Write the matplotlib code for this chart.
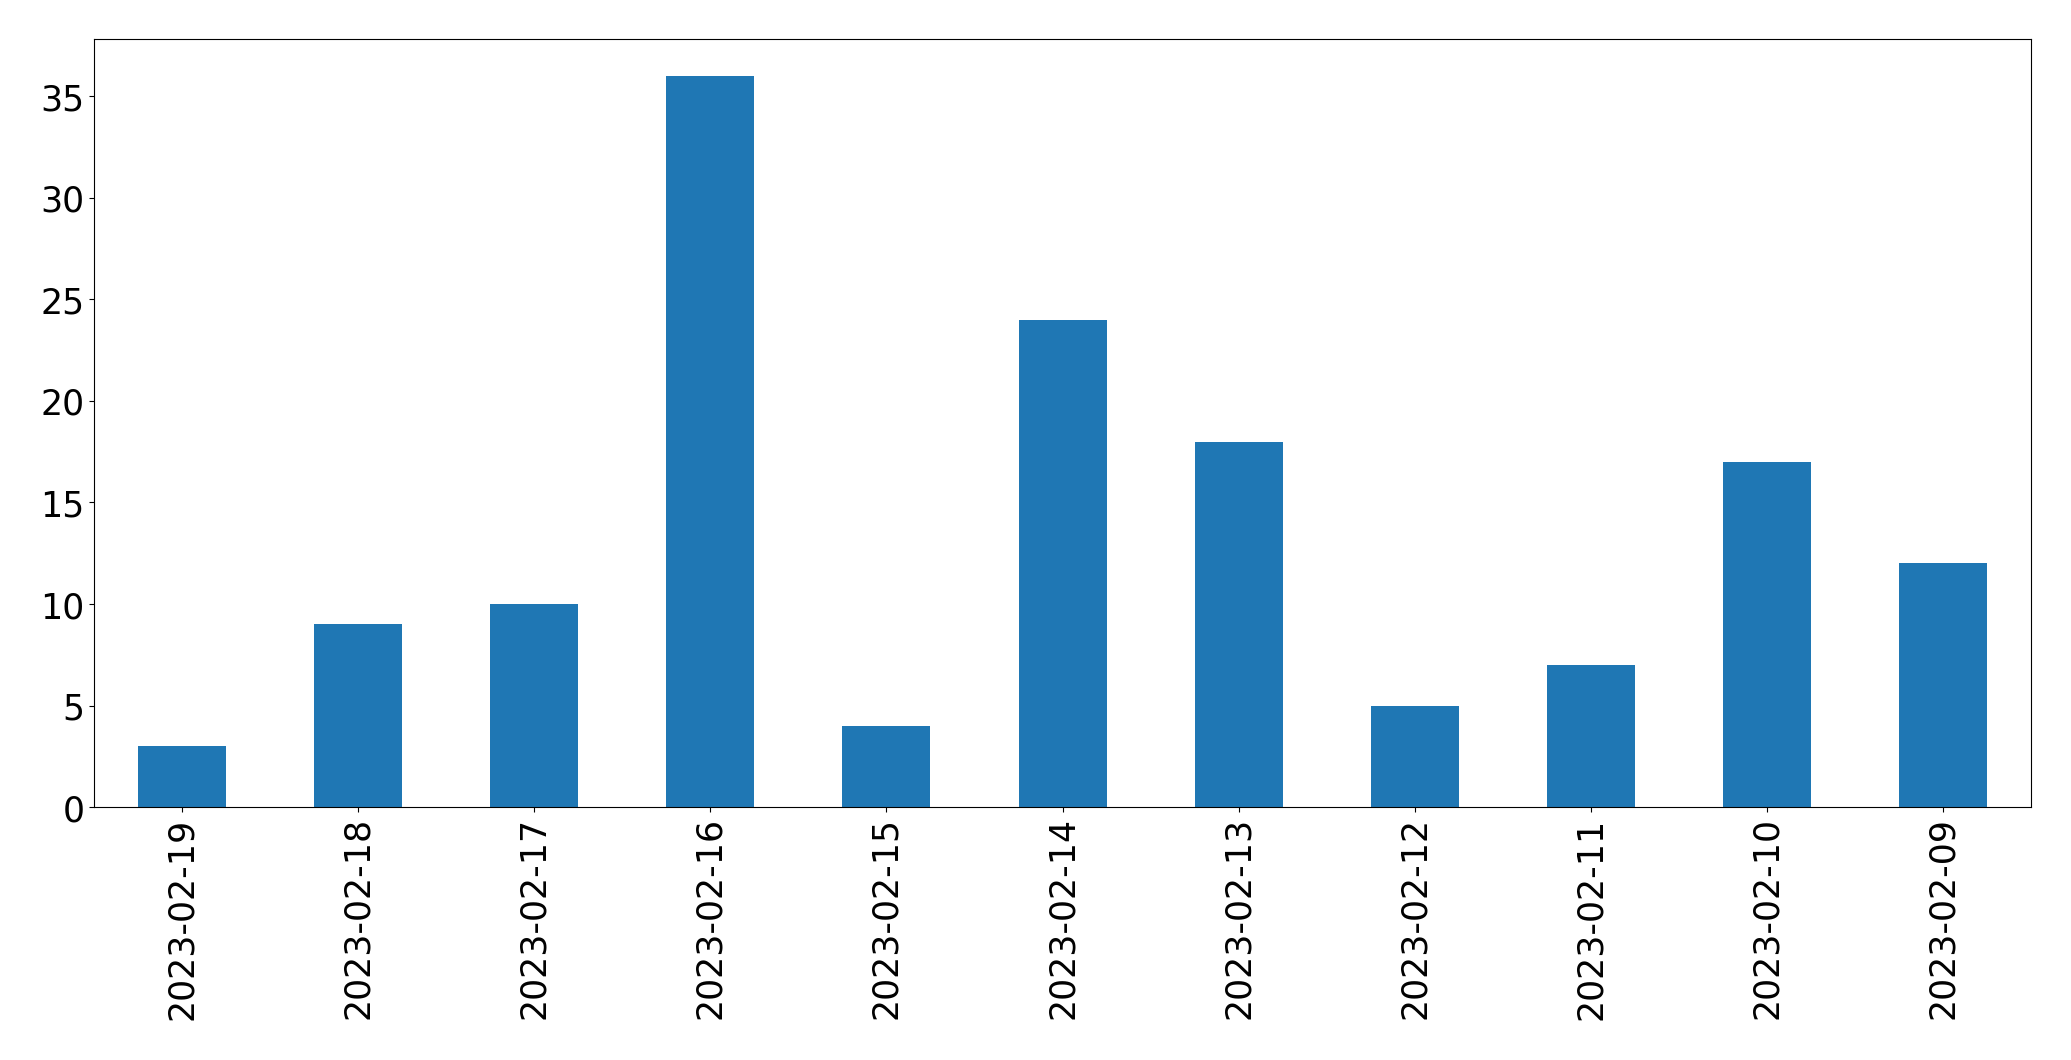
import matplotlib
matplotlib.use("Agg")
import matplotlib.pyplot as plt
import pandas as pd

# daily counts, newest first
dates = ["2023-02-19", "2023-02-18", "2023-02-17", "2023-02-16", "2023-02-15",
         "2023-02-14", "2023-02-13", "2023-02-12", "2023-02-11", "2023-02-10",
         "2023-02-09"]
counts = [3, 9, 10, 36, 4, 24, 18, 5, 7, 17, 12]

s = pd.Series(counts, index=dates)

plt.rcParams['font.size'] = 25
fig, ax = plt.subplots(figsize=(20.71, 10.605), dpi=100)
s.plot(kind='bar', ax=ax, color='#1f77b4')
ax.tick_params(axis='both', labelsize=25)
plt.subplots_adjust(left=0.0454, right=0.9807, top=0.9623, bottom=0.2385)
plt.savefig("out.png")
